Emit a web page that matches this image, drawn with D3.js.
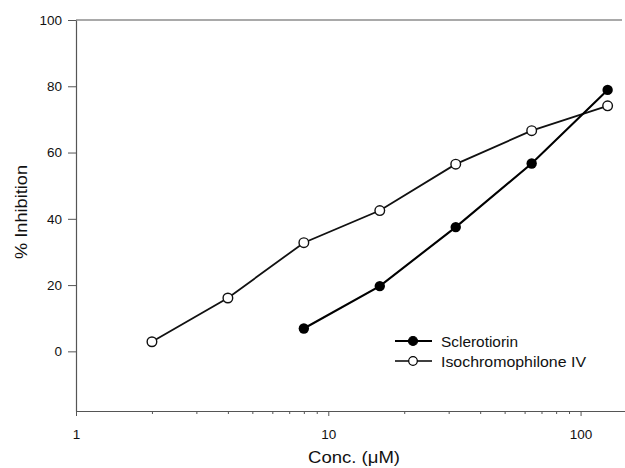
<!DOCTYPE html>
<html lang="en">
<head>
<meta charset="UTF-8">
<title>% Inhibition vs concentration</title>
<script src="https://d3js.org/d3.v7.min.js"></script>
<style>
  html, body { margin: 0; padding: 0; background: #fff; }
  svg { display: block; font-family: Arial, "Liberation Sans", sans-serif; }
  .axis path, .axis line { stroke: #555; fill: none; }
  .axis text { fill: #111; font-size: 13.5px; }
</style>
</head>
<body>
<svg id="chart" width="625" height="468"></svg>
<script>
// Data
const conc = [2, 4, 8, 16, 32, 64, 128];
const isoValues = [2.9, 16.1, 32.8, 42.5, 56.5, 66.6, 74.1];      // Isochromophilone IV
const scleroConc = [8, 16, 32, 64, 128];
const scleroValues = [6.9, 19.7, 37.5, 56.7, 78.9];               // Sclerotiorin
const yTicks = [0, 20, 40, 60, 80, 100];
const xTicks = [1, 10, 100];
const seriesNames = ['Sclerotiorin', 'Isochromophilone IV'];

const width = 625, height = 468;
const margin = { top: 20, right: 0, bottom: 57, left: 76 };

const x = d3.scaleLog()
  .domain([1, 150])
  .range([margin.left, width - margin.right]);
const y = d3.scaleLinear()
  .domain([-18, 100])
  .range([height - margin.bottom, margin.top]);

const svg = d3.select('#chart');

// Top frame line
svg.append('line')
  .attr('x1', x(1)).attr('x2', 622)
  .attr('y1', y(100)).attr('y2', y(100))
  .attr('stroke', '#555').attr('stroke-width', 1.2);

// X axis (major ticks + minor ticks)
const minor = [];
[1, 10, 100].forEach(d => { for (let k = 2; k <= 9; k++) if (d * k <= 150) minor.push(d * k); });
svg.append('g')
  .attr('class', 'axis')
  .attr('transform', `translate(0,${y(-18)})`)
  .call(d3.axisBottom(x).tickValues(minor).tickSize(3).tickFormat(''))
  .call(g => g.select('.domain').remove());
svg.append('g')
  .attr('class', 'axis')
  .attr('transform', `translate(0,${y(-18)})`)
  .call(d3.axisBottom(x).tickValues(xTicks).tickSize(5).tickSizeOuter(0).tickPadding(13)
    .tickFormat(d3.format('d')))
  .call(g => g.select('.domain').attr('stroke-width', 1.2));

// Y axis
svg.append('g')
  .attr('class', 'axis')
  .attr('transform', `translate(${x(1)},0)`)
  .call(d3.axisLeft(y).tickValues(yTicks).tickSize(8).tickSizeOuter(0).tickPadding(6))
  .call(g => g.select('.domain').attr('stroke-width', 1.2));

// Axis titles
svg.append('text')
  .attr('x', 354).attr('y', 463)
  .attr('text-anchor', 'middle')
  .attr('font-size', 16).attr('fill', '#111')
  .attr('textLength', 92).attr('lengthAdjust', 'spacingAndGlyphs')
  .text('Conc. (μM)');
svg.append('text')
  .attr('transform', `translate(27,212) rotate(-90)`)
  .attr('text-anchor', 'middle')
  .attr('font-size', 17).attr('fill', '#111')
  .attr('textLength', 94).attr('lengthAdjust', 'spacingAndGlyphs')
  .text('% Inhibition');

const line = d3.line().x(d => x(d[0])).y(d => y(d[1]));

const iso = conc.map((c, i) => [c, isoValues[i]]);
const scl = scleroConc.map((c, i) => [c, scleroValues[i]]);

// Isochromophilone IV: thin line, open circles
svg.append('path')
  .attr('d', line(iso))
  .attr('fill', 'none').attr('stroke', '#111').attr('stroke-width', 1.8);
// Sclerotiorin: heavier line, filled circles
svg.append('path')
  .attr('d', line(scl))
  .attr('fill', 'none').attr('stroke', '#000').attr('stroke-width', 2.1);

svg.selectAll('.open').data(iso).enter().append('circle')
  .attr('class', 'open')
  .attr('cx', d => x(d[0])).attr('cy', d => y(d[1])).attr('r', 4.8)
  .attr('fill', '#fff').attr('stroke', '#111').attr('stroke-width', 1.4);
svg.selectAll('.filled').data(scl).enter().append('circle')
  .attr('class', 'filled')
  .attr('cx', d => x(d[0])).attr('cy', d => y(d[1])).attr('r', 5.2)
  .attr('fill', '#000');

// Legend
const legend = svg.append('g').attr('transform', 'translate(395,341)');
const legendWidths = [77, 145];
seriesNames.forEach((name, i) => {
  const g = legend.append('g').attr('transform', `translate(0,${i * 20})`);
  g.append('line').attr('x1', 0).attr('x2', 37).attr('y1', 0).attr('y2', 0)
    .attr('stroke', '#000').attr('stroke-width', i === 0 ? 2 : 1.3);
  g.append('circle').attr('cx', 18).attr('cy', 0).attr('r', i === 0 ? 4.5 : 4.3)
    .attr('fill', i === 0 ? '#000' : '#fff').attr('stroke', '#000').attr('stroke-width', 1.2);
  g.append('text').attr('x', 46).attr('y', 5.5)
    .attr('font-size', 14.5).attr('fill', '#111')
    .attr('textLength', legendWidths[i]).attr('lengthAdjust', 'spacingAndGlyphs')
    .text(name);
});
</script>
</body>
</html>
